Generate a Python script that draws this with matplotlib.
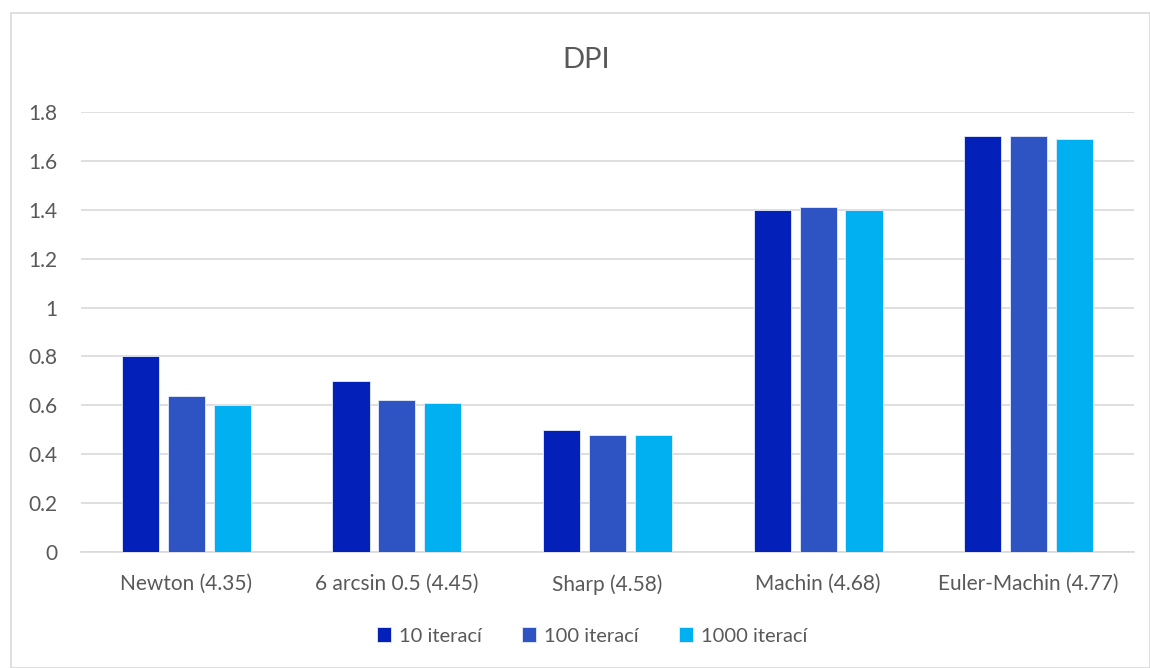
import matplotlib
matplotlib.use("Agg")
import matplotlib.pyplot as plt
import numpy as np
from matplotlib.patches import Rectangle

plt.rcParams['font.family'] = ['Lato', 'DejaVu Sans']

categories = ["Newton (4.35)", "6 arcsin 0.5 (4.45)", "Sharp (4.58)",
              "Machin (4.68)", "Euler-Machin (4.77)"]
series_names = ["10 iterací", "100 iterací", "1000 iterací"]
iter_10 = [0.80, 0.70, 0.50, 1.40, 1.70]
iter_100 = [0.64, 0.62, 0.48, 1.41, 1.70]
iter_1000 = [0.60, 0.61, 0.48, 1.40, 1.69]
y_ticks = [0, 0.2, 0.4, 0.6, 0.8, 1, 1.2, 1.4, 1.6, 1.8]
y_tick_labels = ["0", "0.2", "0.4", "0.6", "0.8", "1", "1.2", "1.4", "1.6", "1.8"]

colors = ["#0321B8", "#2E53C3", "#00B0F0"]
text_color = "#595959"
grid_color = "#D9D9D9"

fig = plt.figure(figsize=(11.5, 6.68), dpi=100)
# outer chart frame
fig.patches.append(Rectangle((11 / 1150, 0), 1 - 11 / 1150 - 0.5 / 1150, 1 - 13 / 668,
                             transform=fig.transFigure, fill=False,
                             edgecolor=grid_color, linewidth=1.2))

ax = fig.add_axes([81 / 1150, 1 - 552 / 668, (1134 - 81) / 1150, (552 - 112) / 668])

x = np.arange(len(categories))
bar_w = 0.176
step = 0.218
for i, (vals, name) in enumerate(zip([iter_10, iter_100, iter_1000], series_names)):
    ax.bar(x + (i - 1) * step, vals, width=bar_w, color=colors[i], label=name,
           edgecolor="#E8ECF8", linewidth=0.6, zorder=3)

ax.set_xlim(-0.5, len(categories) - 0.5)
ax.set_ylim(0, 1.8)
ax.set_yticks(y_ticks)
ax.set_yticklabels(y_tick_labels)
ax.set_xticks(x)
ax.set_xticklabels(categories)
ax.tick_params(axis='both', length=0, labelsize=15, labelcolor=text_color)
ax.tick_params(axis='y', pad=17)
ax.tick_params(axis='x', pad=16)
for lbl in ax.get_yticklabels():
    lbl.set_horizontalalignment('right')
ax.yaxis.grid(True, color=grid_color, linewidth=1.2, zorder=0)
for s in ["top", "right", "left"]:
    ax.spines[s].set_visible(False)
ax.spines["bottom"].set_color(grid_color)
ax.spines["bottom"].set_linewidth(1.2)

fig.text(586 / 1150, 1 - 60 / 668, "DPI", ha="center", va="center",
         fontsize=21, color=text_color)

leg = fig.legend(loc="center", bbox_to_anchor=(592 / 1150, 1 - 636 / 668), ncol=3,
                 frameon=False, fontsize=14.5, handlelength=0.7, handleheight=0.7,
                 handletextpad=0.4, columnspacing=2.0)
for t in leg.get_texts():
    t.set_color(text_color)

fig.savefig("out.png", dpi=100)
